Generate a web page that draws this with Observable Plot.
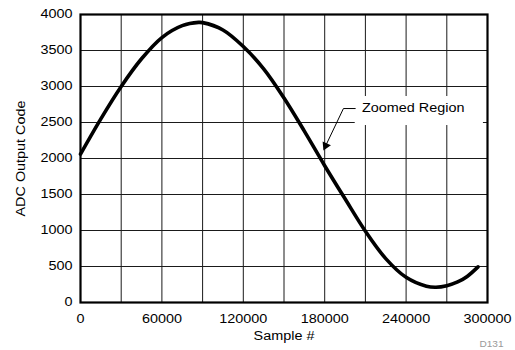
<!DOCTYPE html>
<html>
<head>
<meta charset="utf-8">
<script src="https://cdn.jsdelivr.net/npm/d3@7"></script>
<script src="https://cdn.jsdelivr.net/npm/@observablehq/plot@0.6"></script>
<style>
  html, body { margin: 0; padding: 0; background: white; }
  #chart { width: 515px; height: 350px; }
</style>
</head>
<body>
<div id="chart"></div>
<script>
// Tick values and labels
const xTicks = [0, 60000, 120000, 180000, 240000, 300000];
const yTicks = [0, 500, 1000, 1500, 2000, 2500, 3000, 3500, 4000];
const xGrid = [30000, 60000, 90000, 120000, 150000, 180000, 210000, 240000, 270000];
const yGrid = [500, 1000, 1500, 2000, 2500, 3000, 3500];

// Sine-wave capture
const sampleX = [0, 15000, 30000, 45000, 60000, 75000, 87000, 90000, 105000, 120000, 135000, 150000, 165000, 180000, 195000, 210000, 225000, 240000, 255000, 262000, 270000, 278000, 285000, 293000];
const codeY   = [2060, 2550, 3000, 3385, 3680, 3845, 3890, 3887, 3785, 3555, 3245, 2840, 2380, 1900, 1440, 990, 610, 350, 226, 212, 234, 285, 362, 495];

// Annotation
const noteText = ["Zoomed Region"];
const noteX = [207500];
const noteY = [2694];
const leaderX = [202500, 193800, 180700];
const leaderY = [2694, 2694, 2176];
const boxX1 = [202500], boxX2 = [297000], boxY1 = [2458], boxY2 = [2861];
const figId = ["D131"];

const curve = sampleX.map((x, i) => ({x, y: codeY[i]}));
const leader = leaderX.map((x, i) => ({x, y: leaderY[i]}));
const fmt = d3.format("d");

const svg = Plot.plot({
  width: 515,
  height: 350,
  marginLeft: 80,
  marginRight: 28,
  marginTop: 14,
  marginBottom: 48,
  style: {fontFamily: "'Liberation Sans', Arial, sans-serif", fontSize: "12px", color: "black", background: "white"},
  x: {domain: [0, 300000], ticks: xTicks, tickFormat: fmt, tickSize: 0, tickPadding: 12,
      label: "Sample #", labelAnchor: "center", labelOffset: 37, labelArrow: "none"},
  y: {domain: [0, 4000], ticks: yTicks, tickFormat: fmt, tickSize: 0, tickPadding: 8,
      label: "ADC Output Code", labelAnchor: "center", labelOffset: 64, labelArrow: "none"},
  marks: [
    Plot.ruleX(xGrid, {stroke: "#1a1a1a", strokeWidth: 1}),
    Plot.ruleY(yGrid, {stroke: "#1a1a1a", strokeWidth: 1}),
    Plot.rect([0], {x1: () => boxX1[0], x2: () => boxX2[0], y1: () => boxY1[0], y2: () => boxY2[0], fill: "white"}),
    Plot.line(curve, {x: "x", y: "y", stroke: "black", strokeWidth: 3.6, curve: "catmull-rom"}),
    Plot.line(leader, {x: "x", y: "y", stroke: "black", strokeWidth: 1}),
    Plot.dot([leader[2]], {x: "x", y: "y", symbol: "triangle", r: 3.4, fill: "black", stroke: "none", rotate: 205}),
    Plot.text(noteText, {x: () => noteX[0], y: () => noteY[0], text: d => d, textAnchor: "start", fontSize: 12}),
    Plot.frame({stroke: "black", strokeWidth: 2.2}),
    Plot.text(figId, {frameAnchor: "bottom-right", text: d => d, dx: 16, dy: 44, fill: "#999", fontSize: 9})
  ]
});

document.getElementById("chart").appendChild(svg);

// Reference typeface is noticeably wider than Liberation Sans: widen glyphs.
svg.querySelectorAll("text").forEach(t => {
  const len = t.getComputedTextLength();
  if (len > 0) {
    const k = t.textContent === "D131" ? 1.12 : 1.2;
    t.setAttribute("textLength", (len * k).toFixed(2));
    t.setAttribute("lengthAdjust", "spacingAndGlyphs");
  }
});
</script>
</body>
</html>
